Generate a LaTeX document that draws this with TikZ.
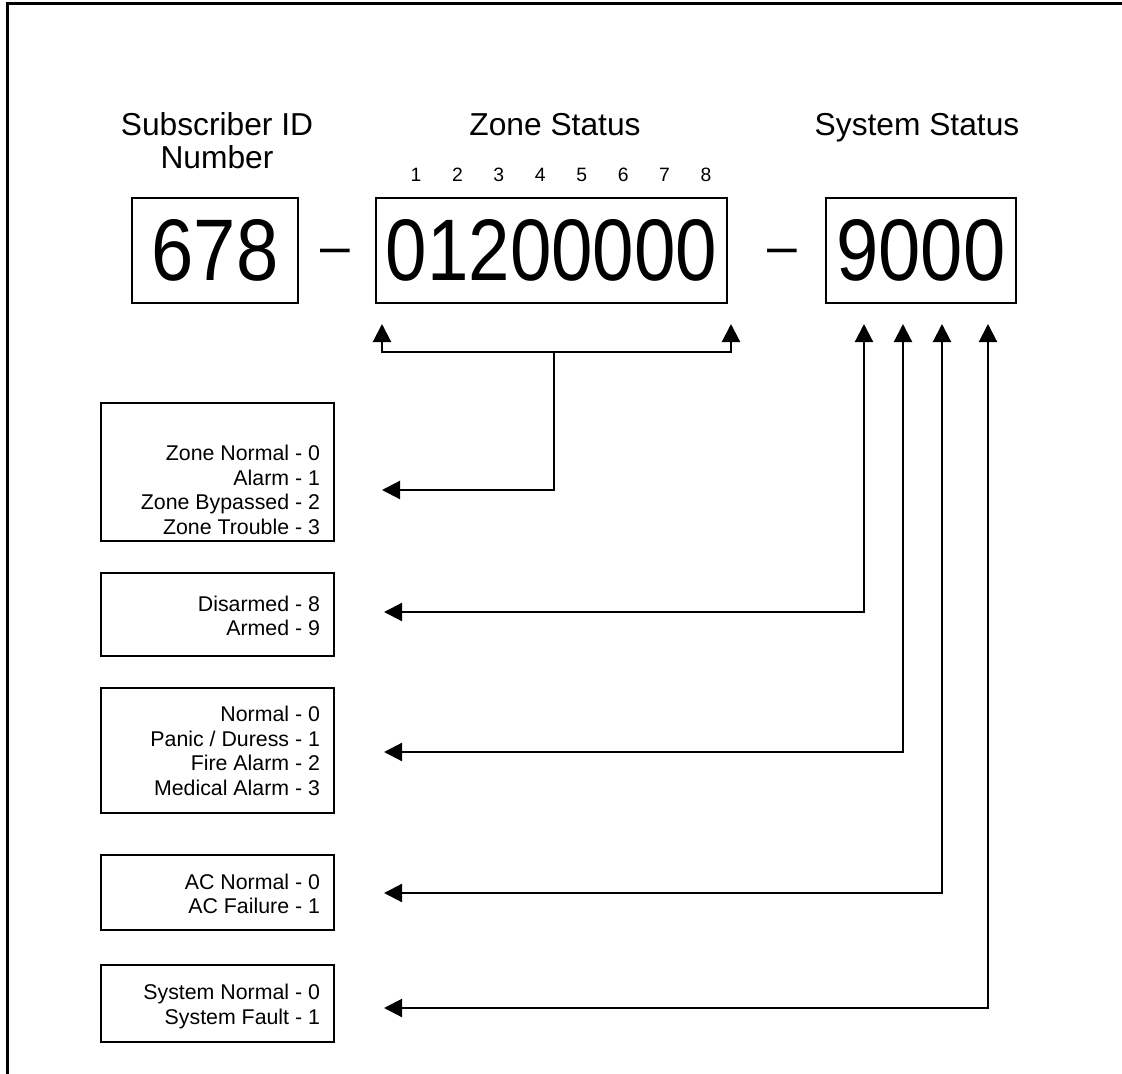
\documentclass[tikz,border=0pt]{standalone}
\usepackage{fontspec}
\setmainfont{Liberation Sans}
\usetikzlibrary{arrows.meta}
\begin{document}
\begin{tikzpicture}[x=0.75pt,y=-0.75pt,
  every node/.style={inner sep=0pt,outer sep=0pt},
  head/.style={font=\fontsize{23.8}{24.75}\selectfont,align=center,anchor=base},
  idx/.style={font=\fontsize{14.5}{16}\selectfont,anchor=base},
  bigbox/.style={draw,line width=1.5pt,minimum height=78.75pt,font=\fontsize{57}{60}\selectfont},
  dashmark/.style={font=\fontsize{40}{40}\selectfont},
  legend/.style={draw,line width=1.5pt,minimum width=174.75pt},
  legendtext/.style={anchor=east,align=right,font=\fontsize{16}{18.5}\selectfont},
  conn/.style={line width=1.6pt,-{Triangle[length=13.5pt,width=13.5pt]}},
  conntwo/.style={line width=1.6pt,{Triangle[length=13.5pt,width=13.5pt]}-{Triangle[length=13.5pt,width=13.5pt]}},
  frame/.style={line width=2.2pt}
]
\useasboundingbox (0,0) rectangle (1122,1074);
% frame
\draw[frame] (7.5,1076) -- (7.5,3.5) -- (1124,3.5);

% headers
\node[head] (hid) at (217,169) {Subscriber ID\\Number};
\node[head] (hzone) at (555,136) {Zone Status};
\node[head] (hsys) at (917,136) {System Status};

% zone digit indices
\foreach \i in {1,...,8}{
  \node[idx] (n\i) at ({416+41.43*(\i-1)},181) {\i};
}

% main boxes
\node[bigbox,minimum width=124.5pt] (id) at (215,250.5) {\scalebox{1}[1.15]{678}};
\node[dashmark] (d1) at (335,257) {–};
\node[bigbox,minimum width=263.25pt] (zone) at (551.5,250.5) {\scalebox{0.98}[1.15]{01200000}};
\node[dashmark] (d2) at (782,257) {–};
\node[bigbox,minimum width=142.5pt] (sys) at (921,250.5) {\scalebox{1}[1.15]{9000}};

% legend boxes
\node[legend,minimum height=103.5pt] (b1) at (217.5,472) {};
\node[legendtext] (t1) at (320,490) {Zone Normal - 0\\Alarm - 1\\Zone Bypassed - 2\\Zone Trouble - 3};
\node[legend,minimum height=62.25pt] (b2) at (217.5,614.5) {};
\node[legendtext] (t2) at (320,616) {Disarmed - 8\\Armed - 9};
\node[legend,minimum height=93.75pt] (b3) at (217.5,750.5) {};
\node[legendtext] (t3) at (320,751) {Normal - 0\\Panic / Duress - 1\\Fire Alarm - 2\\Medical Alarm - 3};
\node[legend,minimum height=56.25pt] (b4) at (217.5,892.5) {};
\node[legendtext] (t4) at (320,894) {AC Normal - 0\\AC Failure - 1};
\node[legend,minimum height=57.75pt] (b5) at (217.5,1003.5) {};
\node[legendtext] (t5) at (320,1006.5) {System Normal - 0\\System Fault - 1};

% connector points
\coordinate (zj) at (554,352);
\coordinate (zl) at (382,324);
\coordinate (zr) at (731,324);
\coordinate (e1) at (382,490);
\coordinate (s1) at (864,324);
\coordinate (s2) at (903,324);
\coordinate (s3) at (942,324);
\coordinate (s4) at (988,324);
\coordinate (e2) at (384,612);
\coordinate (e3) at (384,752);
\coordinate (e4) at (384,893);
\coordinate (e5) at (384,1008);

% zone connectors
\draw[conn] (zj) -| (zl);
\draw[conn] (zj) -| (zr);
\draw[conn] (zj) |- (e1);

% system connectors
\draw[conntwo] (e2) -| (s1);
\draw[conntwo] (e3) -| (s2);
\draw[conntwo] (e4) -| (s3);
\draw[conntwo] (e5) -| (s4);
\end{tikzpicture}
\end{document}
